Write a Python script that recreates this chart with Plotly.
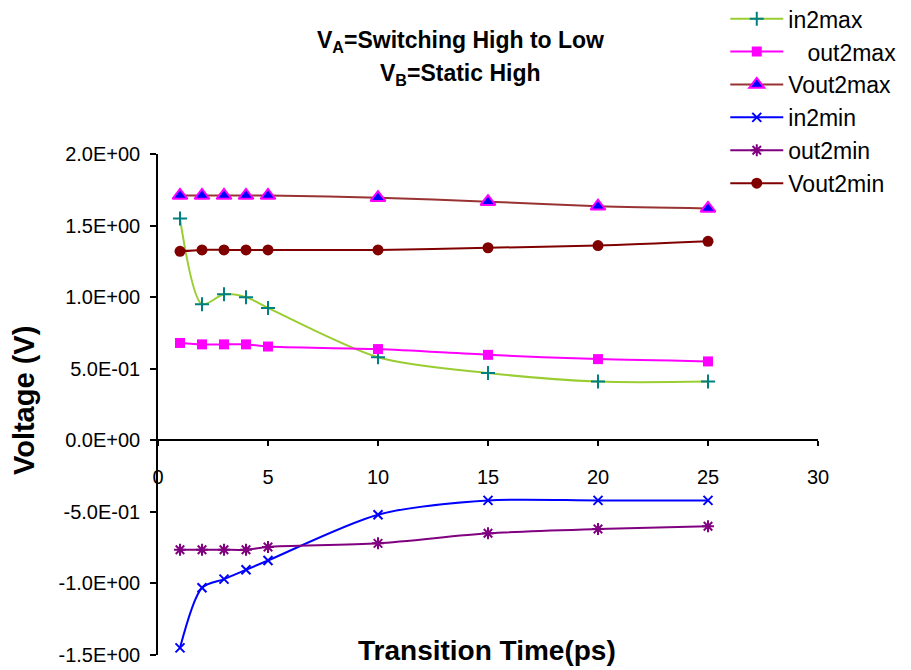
import plotly.graph_objects as go

# Transition times (ps)
transition_ps = [1, 2, 3, 4, 5, 10, 15, 20, 25]

# Voltages (V) for each measured node
in2max = [1.55, 0.95, 1.02, 1.00, 0.925, 0.58, 0.47, 0.41, 0.41]
out2max = [0.68, 0.67, 0.67, 0.67, 0.655, 0.637, 0.597, 0.567, 0.551]
vout2max = [1.71, 1.71, 1.71, 1.71, 1.71, 1.695, 1.667, 1.635, 1.62]
in2min = [-1.45, -1.03, -0.97, -0.905, -0.84, -0.52, -0.42, -0.42, -0.42]
out2min = [-0.765, -0.765, -0.765, -0.765, -0.745, -0.72, -0.65, -0.62, -0.60]
vout2min = [1.32, 1.33, 1.33, 1.33, 1.33, 1.33, 1.345, 1.36, 1.39]

y_tickvals = [-1.5, -1.0, -0.5, 0.0, 0.5, 1.0, 1.5, 2.0]
y_ticktext = ["-1.5E+00", "-1.0E+00", "-5.0E-01", "0.0E+00",
              "5.0E-01", "1.0E+00", "1.5E+00", "2.0E+00"]
x_tickvals = [0, 5, 10, 15, 20, 25, 30]

FONT = "Arial, Liberation Sans, sans-serif"

series = [
    ("in2max", in2max, "#9ACD32",
     dict(symbol="cross-thin", size=10, color="#008080",
          line=dict(color="#008080", width=2))),
    ("\u00a0\u00a0\u00a0out2max", out2max, "#FF00FF",
     dict(symbol="square", size=10, color="#FF00FF",
          line=dict(color="#FF00FF", width=0))),
    ("Vout2max", vout2max, "#993333",
     dict(symbol="triangle-up", size=13, color="#0000FF",
          line=dict(color="#FF00FF", width=2))),
    ("in2min", in2min, "#0000FF",
     dict(symbol="x-thin", size=9, color="#0000FF",
          line=dict(color="#0000FF", width=2))),
    ("out2min", out2min, "#800080",
     dict(symbol="asterisk", size=10, color="#800080",
          line=dict(color="#800080", width=2))),
    ("Vout2min", vout2min, "#800000",
     dict(symbol="circle", size=11, color="#800000",
          line=dict(color="#800000", width=0))),
]

fig = go.Figure()
for name, vals, lcolor, marker in series:
    fig.add_trace(go.Scatter(
        x=transition_ps, y=vals, name=name, mode="lines+markers",
        line=dict(color=lcolor, width=2, shape="spline", smoothing=0.8),
        marker=marker,
    ))

fig.update_layout(
    width=911, height=670,
    margin=dict(l=158, r=93, t=154, b=15, autoexpand=False),
    paper_bgcolor="white", plot_bgcolor="white",
    font=dict(family=FONT, color="#000000"),
    showlegend=True,
    legend=dict(
        x=0.8595, y=1.313, xanchor="left", yanchor="top",
        font=dict(family=FONT, size=23, color="#000000"),
        bgcolor="rgba(0,0,0,0)", itemwidth=53, tracegroupgap=0,
    ),
    xaxis=dict(
        range=[0, 30], tickvals=x_tickvals,
        anchor="free", position=1.5 / 3.5,
        showline=True, linecolor="#000000", linewidth=1.5,
        ticks="outside", ticklen=5, tickwidth=1.5, tickcolor="#000000",
        ticklabelstandoff=14,
        tickfont=dict(family=FONT, size=20, color="#000000"),
        showgrid=False, zeroline=False,
    ),
    yaxis=dict(
        range=[-1.5, 2.0], tickvals=y_tickvals, ticktext=y_ticktext,
        showline=True, linecolor="#000000", linewidth=1.5,
        ticks="outside", ticklen=6, tickwidth=1.5, tickcolor="#000000",
        ticklabelstandoff=6,
        tickfont=dict(family=FONT, size=20, color="#000000"),
        showgrid=False, zeroline=False,
    ),
    annotations=[
        dict(text="<b>V<sub>A</sub>=Switching High to Low</b>",
             xref="paper", yref="paper", x=0.459, y=1.2236,
             xanchor="center", yanchor="middle", showarrow=False,
             font=dict(family=FONT, size=23, color="#000000")),
        dict(text="<b>V<sub>B</sub>=Static High</b>",
             xref="paper", yref="paper", x=0.459, y=1.1577,
             xanchor="center", yanchor="middle", showarrow=False,
             font=dict(family=FONT, size=23, color="#000000")),
        dict(text="<b>Transition Time(ps)</b>",
             xref="paper", yref="paper", x=0.4985, y=-0.025,
             xanchor="center", yanchor="bottom", showarrow=False,
             font=dict(family=FONT, size=28, color="#000000")),
        dict(text="<b>Voltage (V)</b>", textangle=-90,
             xref="paper", yref="paper", x=-0.203, y=0.507,
             xanchor="center", yanchor="middle", showarrow=False,
             font=dict(family=FONT, size=29, color="#000000")),
    ],
)

fig.write_html("out.html")
